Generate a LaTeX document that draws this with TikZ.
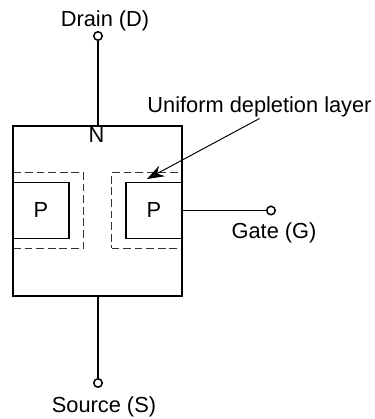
\documentclass[tikz,border=0pt]{standalone}
\usepackage{fontspec}
\setmainfont{Liberation Sans}
\usetikzlibrary{arrows.meta, positioning, calc}
\begin{document}
\begin{tikzpicture}[
  body/.style={draw, line width=0.85pt, minimum width=3.38cm, minimum height=3.4cm, inner sep=0pt},
  pgate/.style={draw, line width=0.85pt, minimum width=1.12cm, minimum height=1.12cm, inner sep=0pt, font=\fontsize{12.4}{14}\selectfont},
  depl/.style={draw, dashed, dash pattern=on 4.4pt off 2.2pt, line width=0.5pt, black!80, minimum width=1.41cm, minimum height=1.52cm, inner sep=0pt},
  term/.style={circle, draw, line width=0.85pt, minimum size=0.17cm, inner sep=0pt},
  lab/.style={inner sep=0pt, font=\fontsize{12.4}{14}\selectfont},
  wire/.style={line width=0.85pt},
  pointer/.style={-{Stealth[length=3.4mm, width=2.4mm]}, line width=0.55pt}
]
\useasboundingbox (0,0) rectangle (7.48,8.38);
% Dashed depletion layer, under the solid outlines
\node[depl] (DL) at (0.965,4.17) {};
\node[depl] (DR) at (2.935,4.17) {};

% Channel body and P regions
\node[body] (B) at (1.95,4.16) {};
\node[pgate] (PL) at (0.82,4.17) {P};
\node[pgate] (PR) at (3.08,4.17) {P};
\node[lab] (N) at (1.93,5.67) {N};

% Terminals
\node[term] (D) at (1.96,7.66) {};
\node[term] (S) at (1.96,0.72) {};
\node[term] (G) at (5.42,4.17) {};
\draw[wire] (D) -- (D |- B.north);
\draw[wire] (S) -- (S |- B.south);
\draw[wire] (G) -- (G -| PR.east);

% Labels
\node[lab] (DT) at (2.1,7.96) {Drain (D)};
\node[lab] (ST) at (2.08,0.25) {Source (S)};
\node[lab] (GT) at (5.48,3.72) {Gate (G)};
\node[lab] (UT) at (5.19,6.25) {Uniform depletion layer};

% Pointer to the layer
\coordinate (A) at (2.94,4.8);
\draw[pointer] ($(UT.south)+(0,-0.03)$) -- (A);
\end{tikzpicture}
\end{document}
